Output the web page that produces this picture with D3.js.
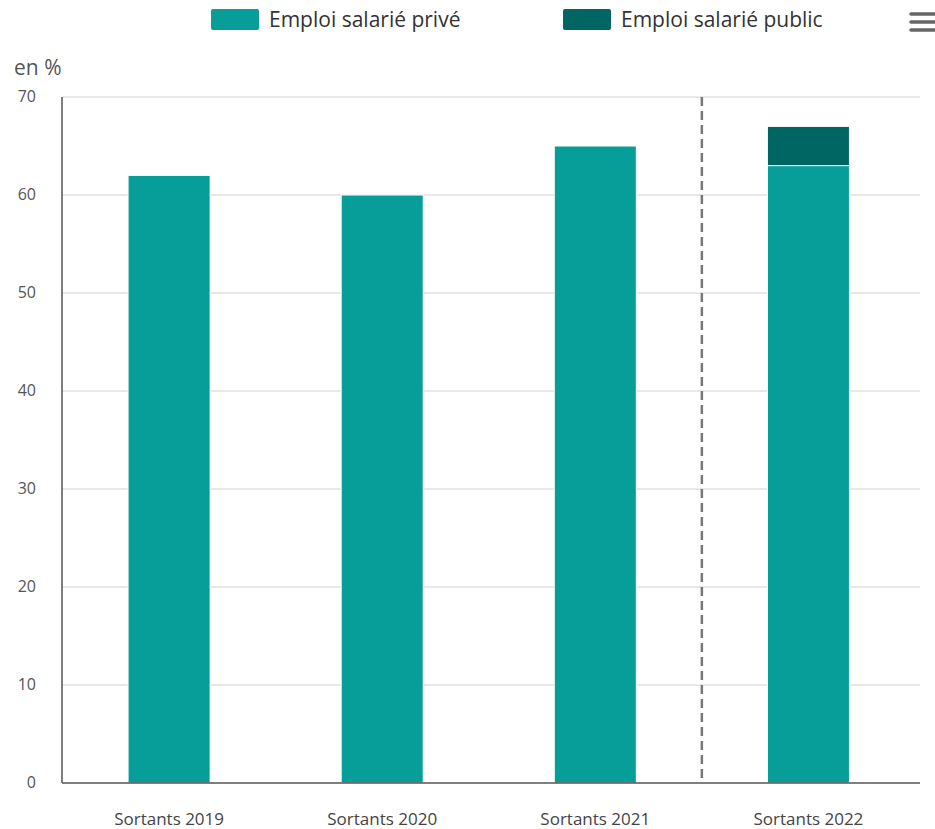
<!DOCTYPE html>
<html>
<head>
<meta charset="utf-8">
<script src="https://cdn.jsdelivr.net/npm/d3@7"></script>
<style>
  body { margin: 0; background: #fff; font-family: "Open Sans", sans-serif; }
</style>
</head>
<body>
<div id="chart"></div>
<script>
// données
const categories = ["Sortants 2019", "Sortants 2020", "Sortants 2021", "Sortants 2022"];
const prive = [62, 60, 65, 63];
const public_ = [0, 0, 0, 4];
const seriesNames = ["Emploi salarié privé", "Emploi salarié public"];
const yTicks = [0, 10, 20, 30, 40, 50, 60, 70];
const colors = ["#079e9a", "#006663"];

const width = 935, height = 829;
const margin = { top: 97, right: 15, bottom: 46, left: 62 };
const plotW = 920 - margin.left; // la grille va jusqu'à 920
const plotH = 783 - margin.top;

const svg = d3.select("#chart").append("svg")
  .attr("width", width).attr("height", height);

const g = svg.append("g").attr("transform", `translate(${margin.left},${margin.top})`);

const x = d3.scaleBand().domain(categories).range([0, 853.5]).paddingInner(0.615).paddingOuter(0.31);
const y = d3.scaleLinear().domain([0, 70]).range([plotH, 0]);

// grille
g.selectAll(".grid").data(yTicks.filter(d => d > 0)).enter().append("line")
  .attr("x1", 0).attr("x2", plotW)
  .attr("y1", d => y(d)).attr("y2", d => y(d))
  .attr("stroke", "#d0d0d0").attr("stroke-width", 1);

// axe y labels
g.selectAll(".ytick").data(yTicks).enter().append("text")
  .attr("x", -26).attr("y", d => y(d) + 5)
  .attr("text-anchor", "end")
  .attr("font-size", 16).attr("fill", "#555")
  .text(d => d);

svg.append("text").attr("x", 14).attr("y", 75)
  .attr("font-size", 21).attr("fill", "#555").text("en %");

// barres empilées
const data = categories.map((c, i) => ({ cat: c, prive: prive[i], public: public_[i] }));
const stack = d3.stack().keys(["prive", "public"])(data);

g.selectAll(".serie").data(stack).enter().append("g")
  .attr("fill", (d, i) => colors[i])
  .selectAll("rect").data(d => d.filter(v => v[1] > v[0])).enter().append("rect")
  .attr("x", d => x(d.data.cat))
  .attr("width", x.bandwidth())
  .attr("y", d => y(d[1]))
  .attr("height", d => y(d[0]) - y(d[1]))
  .attr("stroke", "#fff").attr("stroke-width", 1);

// ligne pointillée entre 2021 et 2022
const sep = x(categories[3]) - x.step() * x.paddingInner() / 2;
g.append("line")
  .attr("x1", sep).attr("x2", sep).attr("y1", 0).attr("y2", plotH)
  .attr("stroke", "#777").attr("stroke-width", 2.5)
  .attr("stroke-dasharray", "9,5");

// axes
g.append("line").attr("x1", 0).attr("x2", 0).attr("y1", 0).attr("y2", plotH)
  .attr("stroke", "#555").attr("stroke-width", 1.5);
g.append("line").attr("x1", 0).attr("x2", plotW).attr("y1", plotH).attr("y2", plotH)
  .attr("stroke", "#555").attr("stroke-width", 1.5);

g.selectAll(".xlab").data(categories).enter().append("text")
  .attr("x", d => x(d) + x.bandwidth() / 2)
  .attr("y", plotH + 42)
  .attr("text-anchor", "middle")
  .attr("font-size", 17).attr("fill", "#444")
  .text(d => d);

// légende
const legX = [211, 563];
const leg = svg.selectAll(".leg").data(seriesNames).enter().append("g")
  .attr("transform", (d, i) => `translate(${legX[i]},9)`);
leg.append("rect").attr("width", 48).attr("height", 21).attr("rx", 2)
  .attr("fill", (d, i) => colors[i]);
leg.append("text").attr("x", 58).attr("y", 18)
  .attr("font-size", 21).attr("fill", "#333").text(d => d);

// icône menu
[14, 22, 30].forEach(yy => {
  svg.append("line").attr("x1", 911).attr("x2", 935).attr("y1", yy).attr("y2", yy)
    .attr("stroke", "#666").attr("stroke-width", 3.5).attr("stroke-linecap", "round");
});
</script>
</body>
</html>
